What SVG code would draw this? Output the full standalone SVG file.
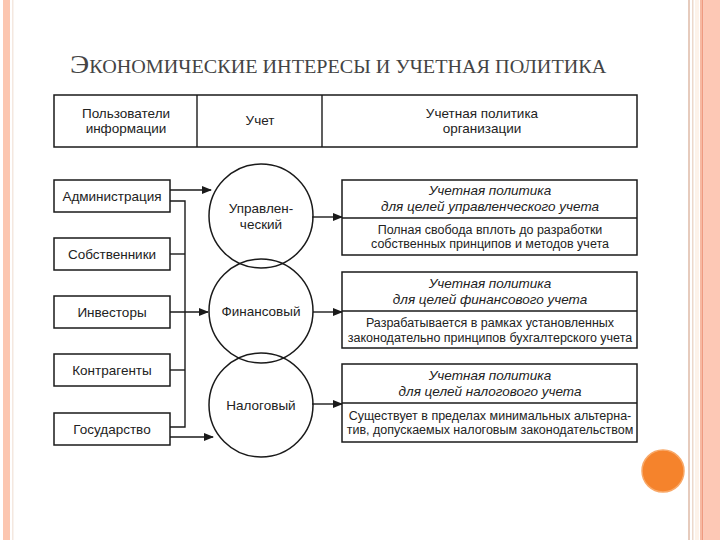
<svg xmlns="http://www.w3.org/2000/svg" width="720" height="540" viewBox="0 0 720 540">
<style>
.b{fill:#fff;stroke:#1a1a1a;stroke-width:1.5}
.l{fill:none;stroke:#1a1a1a;stroke-width:1.4}
.t{font-family:"Liberation Sans",Arial,sans-serif;font-size:13.5px;fill:#222;text-anchor:middle}
.s{font-family:"Liberation Sans",Arial,sans-serif;font-size:12.5px;fill:#222;text-anchor:middle}
.i{font-family:"Liberation Sans",Arial,sans-serif;font-size:13.5px;font-style:italic;fill:#222;text-anchor:middle}
</style>
<defs>
<marker id="ah" markerWidth="10" markerHeight="8" refX="9" refY="4" orient="auto" markerUnits="userSpaceOnUse">
<path d="M0,0 L10,4 L0,8 Z" fill="#1a1a1a"/>
</marker>
</defs>
<rect width="720" height="540" fill="#fff"/>
<g id="frame">
<rect x="3" y="0" width="7" height="540" fill="#fcc6b0"/>
<rect x="12" y="0" width="1.5" height="540" fill="#f4e8e0"/>
<rect x="688" y="0" width="2" height="540" fill="#e6cbbd"/>
<rect x="692" y="0" width="1.5" height="540" fill="#ecd9cc"/>
<rect x="695" y="0" width="4" height="540" fill="#fdf3ea"/>
<rect x="700" y="0" width="2" height="540" fill="#f7b9a2"/>
<rect x="702" y="0" width="1.5" height="540" fill="#ef9a80"/>
<rect x="703.5" y="0" width="16.5" height="540" fill="#fdc8b5"/>
</g>
<g id="title">
<text transform="translate(70,73) scale(1.12,1)" x="0" y="0" font-family="'Liberation Serif','Times New Roman',serif" font-size="18" fill="#444"><tspan font-size="26">Э</tspan>КОНОМИЧЕСКИЕ ИНТЕРЕСЫ И УЧЕТНАЯ ПОЛИТИКА</text>
</g>
<g id="header">
<rect class="b" x="54" y="95" width="583" height="52"/>
<line class="l" x1="197" y1="95" x2="197" y2="147"/>
<line class="l" x1="322" y1="95" x2="322" y2="147"/>
<text class="t" x="126" y="118">Пользователи</text>
<text class="t" x="126" y="133">информации</text>
<text class="t" x="260" y="125">Учет</text>
<text class="t" x="482" y="118">Учетная политика</text>
<text class="t" x="482" y="133">организации</text>
</g>
<g id="connectors">
<line class="l" x1="170" y1="190" x2="211" y2="190" marker-end="url(#ah)"/>
<polyline class="l" points="170,201 185,201 185,427 170,427"/>
<line class="l" x1="170" y1="254" x2="185" y2="254"/>
<line class="l" x1="170" y1="312" x2="208" y2="312" marker-end="url(#ah)"/>
<line class="l" x1="170" y1="370" x2="185" y2="370"/>
<line class="l" x1="170" y1="437" x2="213" y2="437" marker-end="url(#ah)"/>
<line class="l" x1="312" y1="217" x2="342" y2="217" marker-end="url(#ah)"/>
<line class="l" x1="313" y1="312" x2="342" y2="312" marker-end="url(#ah)"/>
<line class="l" x1="312" y1="404" x2="342" y2="404" marker-end="url(#ah)"/>
</g>
<g id="n-admin"><rect class="b" x="54" y="180" width="116" height="32"/><text class="t" x="112" y="201">Администрация</text></g>
<g id="n-owners"><rect class="b" x="54" y="238" width="116" height="32"/><text class="t" x="112" y="259">Собственники</text></g>
<g id="n-investors"><rect class="b" x="54" y="296" width="116" height="32"/><text class="t" x="112" y="317">Инвесторы</text></g>
<g id="n-contr"><rect class="b" x="54" y="354" width="116" height="32"/><text class="t" x="112" y="375">Контрагенты</text></g>
<g id="n-gov"><rect class="b" x="54" y="413" width="116" height="32"/><text class="t" x="112" y="434">Государство</text></g>
<g id="c-mgmt"><circle cx="261" cy="216" r="52" fill="none" stroke="#1a1a1a" stroke-width="1.5"/><text class="t" x="261" y="213">Управлен-</text><text class="t" x="261" y="229">ческий</text></g>
<g id="c-fin"><circle cx="261" cy="311" r="52" fill="none" stroke="#1a1a1a" stroke-width="1.5"/><text class="t" x="261" y="316">Финансовый</text></g>
<g id="c-tax"><circle cx="261" cy="405" r="52" fill="none" stroke="#1a1a1a" stroke-width="1.5"/><text class="t" x="261" y="410">Налоговый</text></g>
<g id="p-mgmt">
<rect class="b" x="342" y="180" width="295" height="75"/>
<line class="l" x1="342" y1="218" x2="637" y2="218"/>
<text class="i" x="490" y="195">Учетная политика</text>
<text class="i" x="490" y="211">для целей управленческого учета</text>
<text class="s" x="490" y="234">Полная свобода вплоть до разработки</text>
<text class="s" x="490" y="248">собственных принципов и методов учета</text>
</g>
<g id="p-fin">
<rect class="b" x="342" y="272" width="295" height="76"/>
<line class="l" x1="342" y1="311" x2="637" y2="311"/>
<text class="i" x="490" y="288">Учетная политика</text>
<text class="i" x="490" y="304">для целей финансового учета</text>
<text class="s" x="490" y="327">Разрабатывается в рамках установленных</text>
<text class="s" x="490" y="342">законодательно принципов бухгалтерского учета</text>
</g>
<g id="p-tax">
<rect class="b" x="342" y="364" width="295" height="78"/>
<line class="l" x1="342" y1="403" x2="637" y2="403"/>
<text class="i" x="490" y="380">Учетная политика</text>
<text class="i" x="490" y="396">для целей налогового учета</text>
<text class="s" x="490" y="420">Существует в пределах минимальных альтерна-</text>
<text class="s" x="490" y="434">тив, допускаемых налоговым законодательством</text>
</g>
<g id="dot"><circle cx="663" cy="471" r="21" fill="#f5832c" stroke="#f8a868" stroke-width="1.5"/></g>
</svg>
